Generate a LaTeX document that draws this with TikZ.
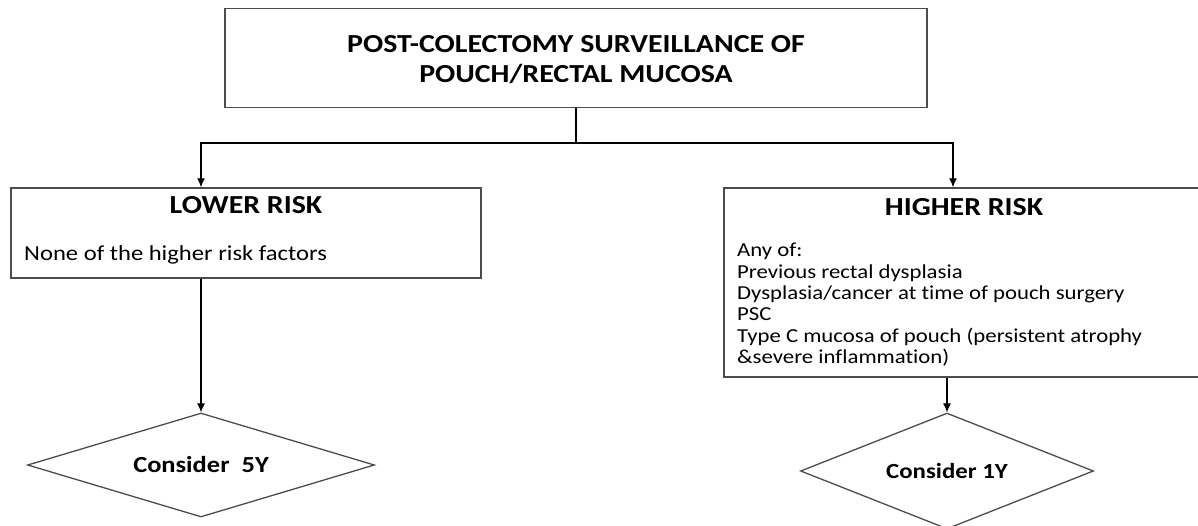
\documentclass[tikz,border=0pt]{standalone}
\usepackage{fontspec}
\setmainfont{Carlito}[FakeStretch=1.15, Ligatures=NoCommon]
\usetikzlibrary{arrows.meta,shapes.geometric}
\begin{document}
\begin{tikzpicture}[x=1pt,y=-1pt,
        box/.style={draw=black!70, line width=1.5pt, rectangle, inner sep=0pt},
        head/.style={font=\fontsize{26}{30}\selectfont\bfseries, align=center, inner sep=0pt},
        body/.style={font=\fontsize{21.4}{24}\selectfont, inner sep=0pt},
        decide/.style={draw=black!70, line width=1.3pt, diamond, inner sep=0pt, font=\fontsize{23}{26}\selectfont\bfseries},
        link/.style={line width=1.1pt, -{Latex[length=9pt,width=8pt]}}]
        \useasboundingbox (0,0) rectangle (1198,525);
        \node[box, minimum width=702, minimum height=99] (title) at (576,58) {};
        \node[head] (titletext) at (576,60) {POST-COLECTOMY SURVEILLANCE OF\\POUCH/RECTAL MUCOSA};
        \node[box, minimum width=470, minimum height=90] (lower) at (246,233) {};
        \node[head] (lowerhead) at (246,205) {LOWER RISK};
        \node[body, anchor=base west] (lowerbody) at (24,260) {None of the higher risk factors};
        \node[box, minimum width=486, minimum height=189] (higher) at (967,282.5) {};
        \node[head] (higherhead) at (964,207) {HIGHER RISK};
        \node[body, font=\fontsize{19.8}{21.4}\selectfont, align=left, anchor=north west] (higherbody) at (737,243)
            {Any of:\\Previous rectal dysplasia\\Dysplasia/cancer at time of pouch surgery\\PSC\\Type C mucosa of pouch (persistent atrophy\\\&severe inflammation)};
        \node[decide, aspect=3.34, minimum width=347, minimum height=104] (lowerdia) at (201,465) {Consider\ \ 5Y};
        \node[decide, aspect=2.53, minimum width=293, minimum height=116, font=\fontsize{21.6}{24}\selectfont\bfseries] (higherdia) at (947,471) {Consider 1Y};
        \coordinate (split) at (576,143);
        \draw[line width=1.1pt] (title.south) -- (split);
        \draw[link] (split) -| (lower.north -| lowerdia.north);
        \draw[link] (split) -| ([xshift=6pt]higher.north -| higherdia.north);
        \draw[link] (lower.south -| lowerdia.north) -- (lowerdia.north);
        \draw[link] (higher.south -| higherdia.north) -- (higherdia.north);
    \end{tikzpicture}
\end{document}
